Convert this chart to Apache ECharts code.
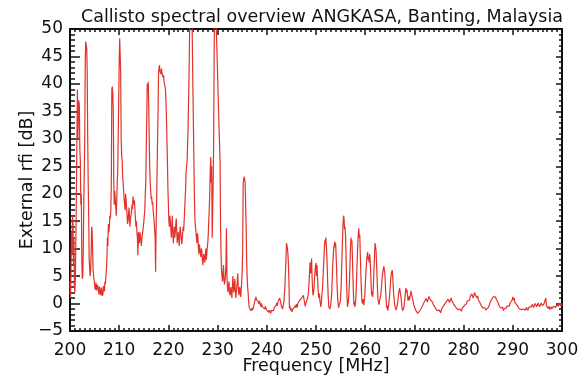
<!DOCTYPE html>
<html>
<head>
<meta charset="utf-8">
<script src="https://cdn.jsdelivr.net/npm/echarts@6/dist/echarts.min.js"></script>
<style>html,body{margin:0;padding:0;background:#fff;}#c{width:579px;height:378px;}</style>
</head>
<body>
<div id="c"></div>
<script>
// Spectrum segments: [frequency MHz, external rfi dB]
const seg200to220 = [
[200.0,4],[200.1,1],[200.2,6],[200.3,13],[200.4,9],[200.5,16],[200.6,15],[200.7,7],[200.8,12],[200.9,3],
[201.0,2],[201.1,5],[201.3,20],[201.5,39],[201.6,30],[201.7,34],[201.8,37],[201.9,36],[202.0,28],[202.1,26],
[202.2,18],[202.3,20],[202.4,8],[202.5,4.5],[202.6,5],[202.7,10],[202.8,18],[202.9,24],[203.0,30],[203.1,44],
[203.2,47.7],[203.3,47],[203.4,46.5],[203.5,42],[203.6,30],[203.7,22],[203.8,16],[203.9,8],[204.0,6.5],[204.1,5],
[204.2,6],[204.3,9],[204.4,14],[204.5,13],[204.6,10],[204.7,6],[204.8,5],[205.0,3.5],[205.1,2.5],[205.2,3.2],[205.3,3.8],
[205.4,2.4],[205.5,2.2],[205.6,3.4],[205.7,3],[205.8,2.1],[205.9,1.6],[206.0,3.1],[206.1,2.8],[206.2,1.9],[206.3,1.5],[206.4,2.9],
[206.5,2.6],[206.6,1.4],[206.7,1.8],[206.8,3.2],[206.9,2.8],[207.0,2.2],[207.1,4],[207.2,3.5],[207.3,5],[207.4,6.2],
[207.5,8],[207.6,12],[207.7,10.5],[207.8,14.5],[207.9,13],[208.0,14],[208.1,16],[208.2,15.5],[208.3,17],[208.4,22],[208.5,39],[208.6,39.5],[208.7,38],[208.8,35],
[208.9,22],[209.0,18],[209.1,20.5],[209.2,19],[209.3,17.5],[209.4,16],[209.5,18.5],[209.6,22],[209.7,24],[209.8,30],[210.0,44],[210.1,48.3],[210.2,48],[210.3,42],
[210.4,30],[210.5,27],[210.6,26],[210.7,23],[210.8,22],[210.9,20.5],[211.0,19],[211.1,18],[211.2,17],[211.3,20],[211.4,19],[211.5,17.5],[211.6,16],[211.7,14.5],[211.8,15],[211.9,16.5],[212.0,17.5],[212.1,15.5],[212.2,14],
[212.3,15.5],[212.4,16],[212.5,17],[212.6,18],[212.7,17.2],[212.8,19.5],[212.9,18.5],[213.0,18],[213.1,18.8],[213.2,17],[213.3,15.5],[213.4,14],[213.5,15],[213.6,13],[213.7,12],[213.8,8.8],[213.9,13],[214.0,12],[214.1,11],
[214.2,13],[214.3,12.5],[214.4,11.5],[214.5,10.5],[214.6,11.8],[214.7,12],[214.8,13.2],[214.9,14],[215.0,14.8],[215.1,16],[215.2,17],[215.3,20],[215.4,22],[215.5,28],[215.6,34],[215.7,40],[215.8,39.5],[215.9,40.4],
[216.0,36],[216.1,30],[216.2,25],[216.3,22],[216.4,20.5],[216.5,19],[216.6,19.5],[216.7,18],[216.8,18.5],[216.9,17],[217.0,16],[217.1,15],[217.2,13.5],[217.3,12],[217.4,5.8],[217.5,14],
[217.6,18],[217.7,24],[217.8,30],[217.9,35],[218.0,42],[218.1,43],[218.2,43.4],[218.3,42.2],[218.4,42.5],[218.5,41.8],[218.6,42.8],[218.7,41.9],[218.8,42],[218.9,41.2],[219.0,41.6],[219.1,40.6],[219.2,40],[219.3,39.6],[219.4,39],
[219.5,37],[219.6,34],[219.7,30],[219.8,26],[219.9,21],[220.0,18]
];
const seg220to236 = [
[220.1,15],[220.2,14],[220.3,16],[220.4,15],[220.5,13.5],[220.6,12],[220.7,14],[220.8,16],[220.9,13],[221.0,11],[221.1,12.5],[221.2,14],[221.3,12],[221.4,13],[221.5,14.5],[221.6,15.5],[221.7,13],[221.8,11],[221.9,12],[222.0,13],
[222.1,12],[222.2,10.5],[222.3,12.5],[222.4,14],[222.5,13],[222.6,12],[222.7,10.8],[222.8,11.5],[222.9,12.8],[223.0,14],[223.1,13.2],[223.2,15],[223.3,17],[223.4,19],[223.5,21],[223.6,24],[223.7,25],[223.8,26],[223.9,29],[224.0,32],
[224.2,42],[224.4,55],[224.6,60],[224.8,52],[225.0,38],[225.2,25],[225.3,19],[225.4,15],[225.5,14],[225.6,13],[225.7,12],[225.8,11],[225.9,12.8],[226.0,12],
[226.1,10],[226.2,9],[226.3,10.8],[226.4,10],[226.5,9.2],[226.6,8.5],[226.7,10],[226.8,9.5],[226.9,8],[227.0,7],[227.1,8.3],[227.2,9],[227.3,8],[227.4,7.5],[227.5,8.8],[227.6,10],[227.7,8],[227.8,9],[227.9,10.2],[228.0,11],
[228.1,12.5],[228.2,15],[228.3,17],[228.4,20],[228.5,24],[228.6,26.7],[228.7,22],[228.8,25],[228.9,12],[229.0,17],[229.1,22],[229.2,30],[229.4,60],[229.7,60],
[229.9,45],[230.1,38],[230.3,32],[230.5,26],[230.6,14],[230.7,9],[230.8,6],[230.9,5],[231.0,4],[231.1,5.5],[231.2,7],[231.3,4.5],[231.4,3.5],[231.5,4.2],[231.6,5],
[231.7,7],[231.8,13.7],[231.9,5],[232.0,3],[232.1,2],[232.2,3.2],[232.3,4],[232.4,2.5],[232.5,1.5],[232.6,2.2],[232.7,3],[232.8,1.8],[232.9,1],[233.0,2.8],[233.1,5],[233.2,3.5],[233.3,2],[233.4,3],[233.5,4.5],
[233.6,2.5],[233.7,1],[233.8,2],[233.9,3],[234.0,4],[234.1,5.5],[234.2,3],[234.3,1.5],[234.4,2.2],[234.5,3],[234.6,2],[234.7,1.2],[234.8,2.5],[234.9,4],[235.0,6],[235.1,10],[235.2,22],[235.3,22.5],[235.4,23.1],
[235.5,23],[235.6,22],[235.7,18],[235.8,14],[235.9,8],[236.0,5]
];
const seg236to270 = [
[236.1,3],[236.2,2],[236.3,0.5],[236.4,-0.5],[236.5,-0.9],[236.6,-1.2],[236.7,-0.9],[236.8,-1.3],[236.9,-1.1],[237.0,-0.8],[237.1,-1.2],[237.2,-1],[237.3,-0.6],[237.4,-0.2],[237.5,0.2],[237.6,0.6],[237.7,0.9],[237.8,1.2],[237.9,0.7],[238.0,0.4],
[238.1,0.6],[238.2,0.9],[238.3,0.3],[238.4,-0.1],[238.5,0.5],[238.6,0.3],[238.7,-0.2],[238.8,-0.6],[238.9,0],[239.0,-0.2],[239.1,-0.6],[239.2,-0.9],[239.3,-0.5],[239.4,-0.3],[239.5,-0.8],[239.6,-1],[239.7,-0.5],[239.8,-0.7],[239.9,-1.1],[240.0,-1.4],
[240.1,-1.1],[240.2,-1],[240.3,-1.4],[240.4,-1.6],[240.5,-1.2],[240.6,-0.9],[240.7,-1.4],[240.8,-1.8],[240.9,-1.3],[241.0,-1.5],[241.1,-1.2],[241.2,-1],[241.3,-1.5],[241.4,-1.3],[241.5,-0.8],[241.6,-0.5],[241.7,-1],[241.8,-0.9],[241.9,-0.3],[242.0,0.1],
[242.1,-0.4],[242.2,-0.3],[242.3,0.3],[242.4,0.6],[242.5,0.2],[242.6,1.0],[242.7,0.8],[242.8,0.4],[242.9,-0.2],[243.0,-0.6],[243.1,-0.3],[243.2,-1],[243.3,-0.5],[243.4,-0.8],[243.5,0.5],[243.6,2],[243.7,3.5],[243.8,6],[243.9,8],[244.0,11],
[244.1,11.3],[244.2,10],[244.3,9],[244.4,7],[244.5,4],[244.6,-0.8],[244.7,-0.4],[244.8,-1.2],[244.9,-0.8],[245.0,-1],[245.1,-1.5],[245.2,-1.4],[245.3,-1],[245.4,-0.8],[245.5,-1.3],[245.6,-1.2],[245.7,-0.7],[245.8,-0.4],[245.9,-0.8],
[246.0,-0.1],[246.1,-0.4],[246.2,-0.7],[246.3,0],[246.4,0.3],[246.5,-0.2],[246.6,0.1],[246.7,0.6],[246.8,0.9],[246.9,0.3],[247.0,0.6],[247.1,1.0],[247.2,1.2],[247.3,0.8],[247.4,1.5],[247.5,1.1],[247.6,0.6],[247.7,0.1],[247.8,-0.5],[247.9,0],
[248.0,-0.2],[248.1,0.4],[248.2,0.8],[248.3,0.5],[248.4,1.5],[248.5,2.5],[248.6,4],[248.7,6],[248.8,7.5],[248.9,5.5],[249.0,6],[249.1,8.2],[249.2,5],[249.3,2.5],[249.4,1.5],[249.5,2],[249.6,3],[249.7,4.5],
[249.8,6],[249.9,6.8],[250.0,7.4],[250.1,5],[250.2,7],[250.3,5],[250.4,3],[250.5,1.5],[250.6,1],[250.7,1.8],[250.8,0.5],[250.9,0],[251.0,-0.6],[251.1,0.3],[251.2,1.5],[251.3,2.5],[251.4,4],[251.5,6],
[251.6,8],[251.7,10],[251.8,11.5],[251.9,10.8],[252.0,12],[252.1,10.5],[252.2,9],[252.3,6],[252.4,3],[252.5,1],[252.6,-0.5],[252.7,-0.2],[252.8,-1],[252.9,-0.6],[253.0,-0.2],[253.1,0.8],[253.2,2],[253.3,4.5],[253.4,7],
[253.5,8.5],[253.6,10],[253.7,10.5],[253.8,11.3],[253.9,10.2],[254.0,11],[254.1,8.5],[254.2,6],[254.3,3],[254.4,1],[254.5,0],[254.6,-0.8],[254.7,-0.2],[254.8,-0.5],[254.9,0.2],[255.0,1],[255.1,3],[255.2,6],[255.3,9],[255.4,12],
[255.5,14.5],[255.6,16],[255.7,15.5],[255.8,13.5],[255.9,14],[256.0,12.5],[256.1,9],[256.2,5],[256.3,1.5],[256.4,-0.6],[256.5,0],[256.6,0.5],[256.7,2],[256.8,4],[256.9,7],[257.0,10],[257.1,12],
[257.2,11],[257.3,11.5],[257.4,8.5],[257.5,5],[257.6,2],[257.7,-0.2],[257.8,0.3],[257.9,-0.6],[258.0,0],[258.1,1],[258.2,3],[258.3,6],[258.4,8.5],[258.5,11],[258.6,12.8],[258.7,13.7],[258.8,12],[258.9,12.5],[259.0,9],[259.1,6],
[259.2,3],[259.3,1],[259.4,0],[259.5,0.3],[259.6,0.8],[259.7,-0.3],[259.8,0.4],[259.9,1.2],[260.0,3],[260.1,5],[260.2,6.5],[260.3,8],[260.4,8.8],[260.5,9.4],[260.6,8],[260.7,8.5],[260.8,7.5],[260.9,9],[261.0,8],[261.1,6],
[261.2,3.5],[261.3,1.5],[261.4,2.2],[261.5,1.2],[261.6,2],[261.7,4],[261.8,6.5],[261.9,9],[262.0,11],[262.1,10.3],[262.2,9.8],[262.3,7.5],[262.4,5],[262.5,2.5],[262.6,0.8],[262.7,0.2],[262.8,-0.2],[262.9,0.4],[263.0,0.5],
[263.1,1.2],[263.2,2],[263.3,3],[263.4,4.2],[263.5,5],[263.6,5.8],[263.7,6.3],[263.8,6.8],[263.9,6],[264.0,5.5],[264.1,3.5],[264.2,1.5],[264.3,0.2],[264.4,-0.9],[264.5,-0.4],[264.6,-1.3],[264.7,-0.6],[264.8,0],[264.9,0.8],[265.0,2],[265.1,3.2],[265.2,4.5],[265.3,5.5],
[265.4,5.8],[265.5,6.1],[265.6,4.8],[265.7,3],[265.8,1.5],[265.9,0.8],[266.0,-0.2],[266.1,-0.7],[266.2,-1.0],[266.3,-1.2],[266.4,-0.8],[266.5,-0.5],[266.6,0.2],[266.7,1],[266.8,1.8],[266.9,2.4],[267.0,2.8],[267.1,2.2],[267.2,2],[267.3,1],[267.4,0],
[267.5,-0.8],[267.6,-1.3],[267.7,-1.0],[267.8,-1.5],[267.9,-0.6],[268.0,0.5],[268.1,1.2],[268.2,2.2],[268.3,2.8],[268.4,2.0],[268.5,2.5],[268.6,1.5],[268.7,0.5],[268.8,0.9],[268.9,1.3],[269.0,0.6],[269.1,0.8],[269.2,1.6],[269.3,2.3],[269.4,1.8],[269.5,1.5],
[269.6,1.0],[269.7,0.6],[269.8,0.1],[269.9,-0.3]
];
const seg270to300 = [
[270.0,-0.5],[270.1,-0.8],[270.25,-1.2],[270.4,-1.5],[270.55,-1.1],[270.7,-1.8],[270.85,-1.5],[271.0,-1.4],[271.15,-1.7],[271.3,-1.0],[271.45,-1.2],[271.6,-0.5],[271.75,-0.8],[271.9,0.1],[272.05,-0.2],[272.2,0.4],[272.35,0.9],[272.5,0.8],[272.65,0.3],[272.8,0.6],
[272.95,1.3],[273.1,1.1],[273.25,0.7],[273.4,0.5],[273.55,0.8],[273.7,0.2],[273.85,-0.2],[274.0,-0.3],[274.15,-0.6],[274.3,-0.9],[274.45,-0.6],[274.6,-1.3],[274.75,-1.1],[274.9,-1.6],[275.05,-1.2],[275.2,-1.4],[275.35,-1.7],[275.5,-1.1],[275.65,-0.8],[275.8,-0.6],
[275.95,-0.9],[276.1,-0.2],[276.25,0.1],[276.4,0.2],[276.55,-0.1],[276.7,0.3],[276.85,0.8],[277.0,0.7],[277.15,0.2],[277.3,0.4],[277.45,1.0],[277.6,0.6],[277.75,0.3],[277.9,0],[278.05,0.2],[278.2,-0.3],[278.35,-0.6],[278.5,-0.8],[278.65,-0.5],[278.8,-1.1],
[278.95,-0.8],[279.1,-1.4],[279.25,-1.0],[279.4,-1.2],[279.55,-1.4],[279.7,-0.9],[279.85,-1.2],[280.0,-0.9],[280.15,-0.4],[280.3,-0.5],[280.45,-0.1],[280.6,0],[280.75,0.5],[280.9,0.3],[281.05,0.8],[281.2,0.6],[281.35,1.3],[281.5,1.1],[281.65,1.8],[281.8,1.5],
[281.95,1.0],[282.1,1.2],[282.25,2.0],[282.4,1.6],[282.55,1.3],[282.7,1.0],[282.85,1.4],[283.0,0.6],[283.15,0.8],[283.3,0.2],[283.45,0.3],[283.6,-0.4],[283.75,-0.1],[283.9,-0.8],[284.05,-0.6],[284.2,-1.1],[284.35,-0.8],[284.5,-1.2],[284.65,-1.4],[284.8,-1.0],
[284.95,-0.8],[285.1,-0.5],[285.25,-0.2],[285.4,0.1],[285.55,0.5],[285.7,0.7],[285.85,0.5],[286.0,1.2],[286.15,0.9],[286.3,1.5],[286.45,1.2],[286.6,0.9],[286.75,0.6],[286.9,0.4],[287.05,0.1],[287.2,-0.3],[287.35,-0.2],[287.5,-0.8],[287.65,-0.6],[287.8,-1.0],
[287.95,-0.7],[288.1,-1.3],[288.25,-0.9],[288.4,-1.1],[288.55,-0.6],[288.7,-0.8],[288.85,-0.4],[289.0,-0.6],[289.15,-0.2],[289.3,-0.5],[289.45,0.1],[289.6,0.3],[289.75,0.1],[289.9,0.7],[290.0,1.2],[290.1,1.5],[290.2,0.6],[290.3,1.0],[290.4,0.2],[290.5,0.4],
[290.65,0.1],[290.8,-0.1],[290.95,-0.4],[291.1,-0.5],[291.25,-0.9],[291.4,-0.8],[291.55,-0.6],[291.7,-1.1],[291.85,-0.9],[292.0,-1.3],[292.15,-1.0],[292.3,-0.9],[292.45,-1.3],[292.6,-1.2],[292.75,-0.7],[292.9,-0.8],[293.05,-1.2],[293.2,-1.1],[293.35,-0.6],[293.5,-0.9],
[293.65,-0.4],[293.8,-0.6],[293.95,-0.1],[294.1,-0.3],[294.25,-0.7],[294.4,-0.6],[294.55,0],[294.7,-0.2],[294.85,-0.6],[295.0,-0.5],[295.15,0.1],[295.3,-0.1],[295.45,-0.6],[295.6,-0.4],[295.75,0.1],[295.9,-0.2],[296.05,-0.4],[296.2,-0.6],[296.35,0],[296.5,-0.3],
[296.6,0.2],[296.7,1.0],[296.8,0.1],[296.9,-0.5],[297.05,-0.7],[297.2,-0.9],[297.35,-0.5],[297.5,-1.1],[297.65,-0.8],[297.8,-0.6],[297.95,-1.0],[298.1,-0.9],[298.25,-0.5],[298.4,-0.4],[298.55,-0.8],[298.7,-0.7],[298.85,-0.3],[299.0,-0.2],[299.15,-0.6],[299.3,-0.5],
[299.45,0.1],[299.6,-0.1],[299.75,-0.5],[299.9,0],[300.0,-0.4]
];
const xTickLabels = ['200','210','220','230','240','250','260','270','280','290','300'];
const yTickLabels = ['-5','0','5','10','15','20','25','30','35','40','45','50'];

const spectrum = seg200to220.concat(seg220to236, seg236to270, seg270to300);
const FONT = 'DejaVu Sans';
const ink = '#111';

const chart = echarts.init(document.getElementById('c'), null, {renderer: 'canvas'});
const axisLine = {show: true, onZero: false, lineStyle: {color: ink, width: 2}};
chart.setOption({
  animation: false,
  backgroundColor: '#fff',
  title: {
    text: 'Callisto spectral overview ANGKASA, Banting, Malaysia',
    left: 317, top: 3, textAlign: 'center',
    textStyle: {fontFamily: FONT, fontSize: 17.5, fontWeight: 'normal', color: ink}
  },
  grid: {left: 70, right: 17, top: 29, bottom: 47, containLabel: false, outerBoundsMode: 'none'},
  xAxis: [{
    type: 'value', min: 200, max: 300, interval: 10, position: 'bottom',
    name: 'Frequency [MHz]', nameLocation: 'middle', nameGap: 26, nameMoveOverlap: false,
    nameTextStyle: {fontFamily: FONT, fontSize: 17.5, color: ink},
    axisLine: axisLine,
    axisTick: {show: true, inside: true, length: 6, lineStyle: {color: ink, width: 1.5}},
    minorTick: {show: true, splitNumber: 10, length: 3, lineStyle: {color: ink, width: 1.5}},
    axisLabel: {fontFamily: FONT, fontSize: 17, color: ink, margin: 11,
      formatter: v => xTickLabels[Math.round((v - 200) / 10)]},
    splitLine: {show: false}
  }, {
    type: 'value', min: 200, max: 300, interval: 10, position: 'top',
    axisLine: axisLine,
    axisTick: {show: true, inside: true, length: 6, lineStyle: {color: ink, width: 1.5}},
    minorTick: {show: true, splitNumber: 10, length: 3, lineStyle: {color: ink, width: 1.5}},
    axisLabel: {show: false}, splitLine: {show: false}
  }],
  yAxis: [{
    type: 'value', min: -5, max: 50, interval: 5, position: 'left',
    name: 'External rfi [dB]', nameLocation: 'middle', nameGap: 34, nameRotate: 90, nameMoveOverlap: false,
    nameTextStyle: {fontFamily: FONT, fontSize: 17.5, color: ink},
    axisLine: axisLine,
    axisTick: {show: true, inside: true, length: 10, lineStyle: {color: ink, width: 1.5}},
    minorTick: {show: true, splitNumber: 5, length: 5, lineStyle: {color: ink, width: 1.5}},
    axisLabel: {fontFamily: FONT, fontSize: 17, color: ink, margin: 7,
      formatter: v => { const s = yTickLabels[Math.round((v + 5) / 5)]; return s === '-5' ? '\u22125' : s; }},
    splitLine: {show: false}
  }, {
    type: 'value', min: -5, max: 50, interval: 5, position: 'right',
    axisLine: axisLine,
    axisTick: {show: true, inside: true, length: 6, lineStyle: {color: ink, width: 1.5}},
    minorTick: {show: true, splitNumber: 5, length: 3, lineStyle: {color: ink, width: 1.5}},
    axisLabel: {show: false}, splitLine: {show: false}
  }],
  series: [{
    type: 'line',
    data: spectrum,
    xAxisIndex: 0, yAxisIndex: 0,
    showSymbol: false, symbol: 'none',
    clip: true,
    lineStyle: {color: '#e3322b', width: 1.2},
    z: 1
  }]
});
</script>
</body>
</html>
